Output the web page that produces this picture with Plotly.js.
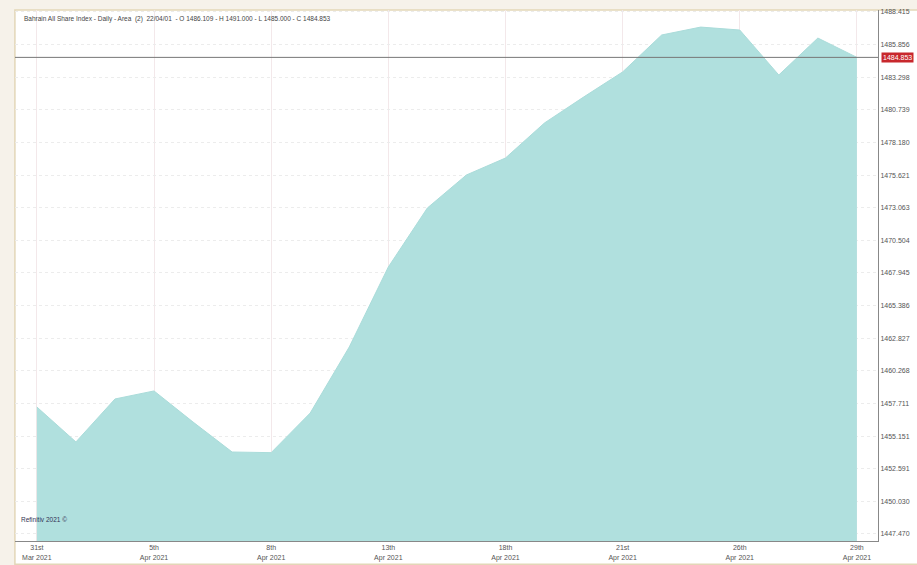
<!DOCTYPE html>
<html>
<head>
<meta charset="utf-8">
<script src="https://cdn.plot.ly/plotly-3.0.1.min.js"></script>
<style>
  html, body { margin: 0; padding: 0; background: #f6f2ea; }
  #chart { width: 917px; height: 565px; }
</style>
</head>
<body>
<div id="chart"></div>
<script>
// Trading days (Bahrain, Sun–Thu)
const dates = ["31 Mar","1 Apr","4 Apr","5 Apr","6 Apr","7 Apr","8 Apr","11 Apr","12 Apr","13 Apr","14 Apr",
               "15 Apr","18 Apr","19 Apr","20 Apr","21 Apr","22 Apr","25 Apr","26 Apr","27 Apr","28 Apr","29 Apr"];
const closeValues = [1457.43,1454.69,1458.06,1458.69,1456.25,1453.90,1453.85,1456.96,1462.14,1468.41,1473.04,
                     1475.63,1476.96,1479.71,1481.74,1483.71,1486.61,1487.23,1487.00,1483.47,1486.37,1484.853];
const xTickDates = ["31 Mar","5 Apr","8 Apr","13 Apr","18 Apr","21 Apr","26 Apr","29 Apr"];
const xTickLabels = ["31st<br>Mar 2021","5th<br>Apr 2021","8th<br>Apr 2021","13th<br>Apr 2021",
                     "18th<br>Apr 2021","21st<br>Apr 2021","26th<br>Apr 2021","29th<br>Apr 2021"];
const yTickValues = [1447.470,1450.030,1452.591,1455.151,1457.711,1460.268,1462.827,1465.386,1467.945,
                     1470.504,1473.063,1475.621,1478.180,1480.739,1483.298,1485.856,1488.415];
const yTickLabels = yTickValues.map(v => v.toFixed(3));
const lastClose = 1484.853;
const headerText = "Bahrain All Share Index - Daily - Area  (2)  22/04/01  - O 1486.109 - H 1491.000 - L 1485.000 - C 1484.853";
const watermark = "Refinitiv 2021 ©";

const trace = {
  x: dates, y: closeValues, type: 'scatter', mode: 'lines',
  fill: 'tozeroy', fillcolor: 'rgb(176,224,222)',
  line: { color: 'rgb(170,220,218)', width: 1 },
  hoverinfo: 'x+y'
};

const layout = {
  width: 917, height: 565,
  margin: { l: 15, r: 39, t: 10, b: 24 },
  paper_bgcolor: '#f6f2ea',
  plot_bgcolor: '#ffffff',
  showlegend: false,
  font: { family: 'Liberation Sans, Arial, sans-serif', size: 7, color: '#555' },
  xaxis: {
    type: 'category', range: [-0.56, 21.54],
    tickmode: 'array', tickvals: xTickDates, ticktext: xTickLabels,
    showgrid: true, gridcolor: '#f3e8ea', gridwidth: 1,
    showline: true, linecolor: '#888', linewidth: 1, mirror: false,
    ticks: '', tickfont: { size: 7, color: '#555' }, zeroline: false, fixedrange: true
  },
  yaxis: {
    side: 'right', range: [1446.92, 1488.57],
    tickmode: 'array', tickvals: yTickValues, ticktext: yTickLabels,
    showgrid: true, gridcolor: '#ececec', griddash: 'dot', gridwidth: 1,
    showline: true, linecolor: '#888', linewidth: 1,
    ticks: '', tickfont: { size: 7, color: '#555' }, zeroline: false, fixedrange: true
  },
  shapes: [
    // white chart panel
    { type: 'rect', xref: 'paper', yref: 'paper', layer: 'below',
      x0: -0.0001, x1: 1.06, y0: -0.044, y1: 1.0,
      fillcolor: '#ffffff', line: { color: '#e3d7b8', width: 1.5 } },
    // last close line
    { type: 'line', xref: 'paper', yref: 'y', x0: 0, x1: 1, y0: lastClose, y1: lastClose,
      line: { color: '#777', width: 1 } }
  ],
  annotations: [
    { xref: 'paper', yref: 'paper', x: 0.008, y: 0.995, xanchor: 'left', yanchor: 'top',
      text: headerText, showarrow: false, font: { size: 6.5, color: '#444' } },
    { xref: 'paper', yref: 'paper', x: 0.005, y: 0.03, xanchor: 'left', yanchor: 'bottom',
      text: watermark, showarrow: false, font: { size: 6.5, color: '#335' } },
    { xref: 'paper', yref: 'y', x: 1.004, y: lastClose, xanchor: 'left', yanchor: 'middle',
      text: lastClose.toFixed(3), showarrow: false, bgcolor: '#c8282d',
      font: { size: 7, color: '#ffffff' }, borderpad: 1 }
  ]
};

Plotly.newPlot('chart', [trace], layout, { displayModeBar: false, staticPlot: true });
</script>
</body>
</html>
